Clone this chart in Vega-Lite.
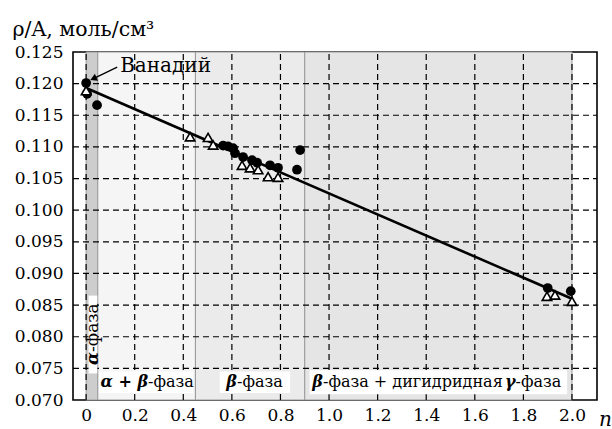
{
 "$schema": "https://vega.github.io/schema/vega-lite/v6.json",
 "width": 524, "height": 348,
 "autosize": {"type": "none"},
 "padding": {"left": 73, "top": 52, "right": 15, "bottom": 29},
 "background": "white",
 "config": {"view": {"stroke": "black", "strokeWidth": 1.6}, "font": "DejaVu Serif"},
 "datasets": {
  "regions": [
   {"phase": "alpha", "n": 0.0, "n2": 0.048, "rho": 0.07, "rho2": 0.125},
   {"phase": "alphabeta", "n": 0.048, "n2": 0.45, "rho": 0.07, "rho2": 0.125},
   {"phase": "beta", "n": 0.45, "n2": 0.9, "rho": 0.07, "rho2": 0.125},
   {"phase": "betagamma", "n": 0.9, "n2": 2.0, "rho": 0.07, "rho2": 0.125}
  ],
  "xgrid": [
   {"n": 0.0, "rho": 0.07, "rho2": 0.125},
   {"n": 0.2, "rho": 0.07, "rho2": 0.125},
   {"n": 0.4, "rho": 0.07, "rho2": 0.125},
   {"n": 0.6, "rho": 0.07, "rho2": 0.125},
   {"n": 0.8, "rho": 0.07, "rho2": 0.125},
   {"n": 1.0, "rho": 0.07, "rho2": 0.125},
   {"n": 1.2, "rho": 0.07, "rho2": 0.125},
   {"n": 1.4, "rho": 0.07, "rho2": 0.125},
   {"n": 1.6, "rho": 0.07, "rho2": 0.125},
   {"n": 1.8, "rho": 0.07, "rho2": 0.125},
   {"n": 2.0, "rho": 0.07, "rho2": 0.125}
  ],
  "ygrid": [
   {"rho": 0.075, "n": -0.054, "n2": 2.103},
   {"rho": 0.08, "n": -0.054, "n2": 2.103},
   {"rho": 0.085, "n": -0.054, "n2": 2.103},
   {"rho": 0.09, "n": -0.054, "n2": 2.103},
   {"rho": 0.095, "n": -0.054, "n2": 2.103},
   {"rho": 0.1, "n": -0.054, "n2": 2.103},
   {"rho": 0.105, "n": -0.054, "n2": 2.103},
   {"rho": 0.11, "n": -0.054, "n2": 2.103},
   {"rho": 0.115, "n": -0.054, "n2": 2.103},
   {"rho": 0.12, "n": -0.054, "n2": 2.103}
  ],
  "boxes": [
   {"n": 0.053, "n2": 0.44, "rho": 0.0711, "rho2": 0.0745},
   {"n": 0.55, "n2": 0.84, "rho": 0.0711, "rho2": 0.0745},
   {"n": 0.92, "n2": 1.98, "rho": 0.0709, "rho2": 0.0747},
   {"n": 0.01, "n2": 0.046, "rho": 0.0742, "rho2": 0.0865}
  ],
  "greek": [
   {"text": "α + β", "n": 0.255, "rho": 0.0728},
   {"text": "β", "n": 0.621, "rho": 0.0728},
   {"text": "β", "n": 0.975, "rho": 0.0728},
   {"text": "γ", "n": 1.768, "rho": 0.0728}
  ],
  "cyr": [
   {"text": "-фаза", "n": 0.255, "rho": 0.0728},
   {"text": "-фаза", "n": 0.621, "rho": 0.0728},
   {"text": "-фаза + дигидридная", "n": 0.975, "rho": 0.0728},
   {"text": "-фаза", "n": 1.768, "rho": 0.0728}
  ],
  "vgreek": [{"text": "α", "n": 0.027, "rho": 0.0776}],
  "vcyr": [{"text": "-фаза", "n": 0.027, "rho": 0.0776}],
  "fit": [{"n": 0.0, "rho": 0.1193}, {"n": 2.0, "rho": 0.086}],
  "circles": [
   {"n": 0.0, "rho": 0.1201},
   {"n": 0.004, "rho": 0.1184},
   {"n": 0.045, "rho": 0.1166},
   {"n": 0.564, "rho": 0.1102},
   {"n": 0.584, "rho": 0.1101},
   {"n": 0.605, "rho": 0.1098},
   {"n": 0.613, "rho": 0.109},
   {"n": 0.646, "rho": 0.1084},
   {"n": 0.683, "rho": 0.1079},
   {"n": 0.704, "rho": 0.1075},
   {"n": 0.757, "rho": 0.1071},
   {"n": 0.79, "rho": 0.1067},
   {"n": 0.881, "rho": 0.1095},
   {"n": 0.868, "rho": 0.1064},
   {"n": 1.9, "rho": 0.0877},
   {"n": 1.995, "rho": 0.0872}
  ],
  "triangles": [
   {"n": 0.0, "rho": 0.1189},
   {"n": 0.428, "rho": 0.1116},
   {"n": 0.502, "rho": 0.1115},
   {"n": 0.523, "rho": 0.1103},
   {"n": 0.642, "rho": 0.1071},
   {"n": 0.675, "rho": 0.1067},
   {"n": 0.708, "rho": 0.1064},
   {"n": 0.749, "rho": 0.1053},
   {"n": 0.79, "rho": 0.1052},
   {"n": 1.897, "rho": 0.0864},
   {"n": 1.93, "rho": 0.0866},
   {"n": 2.0, "rho": 0.0856}
  ],
  "arrow": [{"n": 0.128, "rho": 0.1226, "n2": 0.03, "rho2": 0.1208}],
  "tip": [{"n": 0.03, "rho": 0.1208}],
  "ann": [{"text": "Ванадий", "n": 0.14, "rho": 0.1228}]
 },
 "encoding": {
  "x": {"field": "n", "type": "quantitative",
   "scale": {"domain": [-0.054, 2.103], "nice": false, "zero": false},
   "axis": {"values": [0, 0.2, 0.4, 0.6, 0.8, 1.0, 1.2, 1.4, 1.6, 1.8, 2.0],
    "labelExpr": "datum.value == 0 ? '0' : format(datum.value, '.1f')",
    "grid": false, "domain": false, "ticks": false,
    "labelFont": "DejaVu Serif", "labelFontSize": 17, "labelColor": "black", "labelPadding": 7, "labelFlush": false, "labelOverlap": false,
    "title": "n", "titleFont": "DejaVu Serif", "titleFontStyle": "italic", "titleFontWeight": "normal", "titleFontSize": 20,
    "titleColor": "black", "titleX": 532, "titleY": 25, "titleAlign": "center", "titleBaseline": "alphabetic"}},
  "y": {"field": "rho", "type": "quantitative",
   "scale": {"domain": [0.07, 0.125], "nice": false, "zero": false},
   "axis": {"values": [0.07, 0.075, 0.08, 0.085, 0.09, 0.095, 0.1, 0.105, 0.11, 0.115, 0.12, 0.125],
    "format": ".3f",
    "grid": false, "domain": false, "ticks": false,
    "labelFont": "DejaVu Serif", "labelFontSize": 17, "labelColor": "black", "labelPadding": 10, "labelOverlap": false, "labelBound": false,
    "title": "ρ/A, моль/см³", "titleFont": "DejaVu Serif", "titleAngle": 0, "titleAlign": "left", "titleBaseline": "alphabetic",
    "titleX": -61, "titleY": -17, "titleFontSize": 20.5, "titleFontWeight": "normal", "titleColor": "black"}}
 },
 "layer": [
  {
   "data": {"name": "regions"},
   "mark": {"type": "rect", "stroke": "#9a9a9a", "strokeWidth": 1},
   "encoding": {
    "x2": {"field": "n2"},
    "y2": {"field": "rho2"},
    "color": {"field": "phase", "type": "nominal",
     "scale": {"domain": ["alpha", "alphabeta", "beta", "betagamma"], "range": ["#cdcdcd", "#f5f5f5", "#ebebeb", "#e5e5e5"]},
     "legend": null}
   }
  },
  {
   "data": {"name": "xgrid"},
   "mark": {"type": "rule", "color": "black", "strokeWidth": 1.2, "strokeDash": [6, 4]},
   "encoding": {"y2": {"field": "rho2"}}
  },
  {
   "data": {"name": "ygrid"},
   "mark": {"type": "rule", "color": "black", "strokeWidth": 1.2, "strokeDash": [6, 4]},
   "encoding": {"x2": {"field": "n2"}}
  },
  {
   "data": {"name": "boxes"},
   "mark": {"type": "rect", "fill": "white"},
   "encoding": {"x2": {"field": "n2"}, "y2": {"field": "rho2"}}
  },
  {
   "data": {"name": "greek"},
   "mark": {"type": "text", "fontSize": 16, "fontWeight": "bold", "fontStyle": "italic", "color": "black", "align": "right", "baseline": "middle", "font": "DejaVu Serif"},
   "encoding": {"text": {"field": "text"}}
  },
  {
   "data": {"name": "cyr"},
   "mark": {"type": "text", "fontSize": 16, "color": "black", "align": "left", "baseline": "middle", "font": "DejaVu Serif"},
   "encoding": {"text": {"field": "text"}}
  },
  {
   "data": {"name": "vgreek"},
   "mark": {"type": "text", "fontSize": 17, "fontWeight": "bold", "fontStyle": "italic", "color": "black", "align": "right", "baseline": "middle", "angle": 270, "font": "DejaVu Serif"},
   "encoding": {"text": {"field": "text"}}
  },
  {
   "data": {"name": "vcyr"},
   "mark": {"type": "text", "fontSize": 17, "color": "black", "align": "left", "baseline": "middle", "angle": 270, "font": "DejaVu Serif"},
   "encoding": {"text": {"field": "text"}}
  },
  {
   "data": {"name": "fit"},
   "mark": {"type": "line", "color": "black", "strokeWidth": 2.6},
   "encoding": {}
  },
  {
   "data": {"name": "circles"},
   "mark": {"type": "point", "shape": "circle", "filled": true, "color": "black", "size": 95, "opacity": 1},
   "encoding": {}
  },
  {
   "data": {"name": "triangles"},
   "mark": {"type": "point", "shape": "triangle-up", "filled": true, "fill": "white", "stroke": "black", "strokeWidth": 1.6, "size": 90, "opacity": 1},
   "encoding": {}
  },
  {
   "data": {"name": "arrow"},
   "mark": {"type": "rule", "color": "black", "strokeWidth": 1.3},
   "encoding": {"x2": {"field": "n2"}, "y2": {"field": "rho2"}}
  },
  {
   "data": {"name": "tip"},
   "mark": {"type": "point", "shape": "triangle-up", "filled": true, "color": "black", "size": 60, "angle": 246, "opacity": 1},
   "encoding": {}
  },
  {
   "data": {"name": "ann"},
   "mark": {"type": "text", "fontSize": 20, "color": "black", "align": "left", "baseline": "middle", "font": "DejaVu Serif"},
   "encoding": {"text": {"field": "text"}}
  }
 ]
}
